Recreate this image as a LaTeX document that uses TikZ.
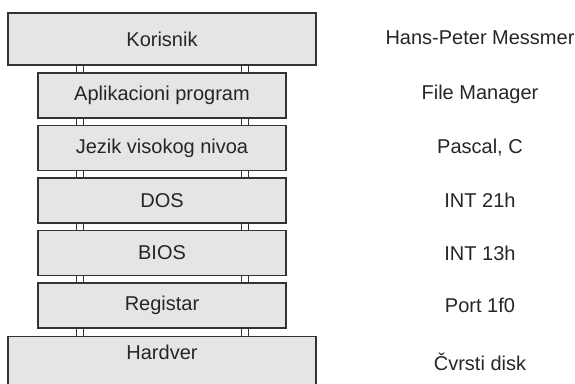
\documentclass[tikz,border=0pt]{standalone}
\usepackage{fontspec}
\setmainfont{Liberation Sans}

\begin{document}
\begin{tikzpicture}[x=1pt,y=-1pt,
	every node/.style={font=\fontsize{20}{23}\selectfont,text=black!85},
	layer/.style={draw=black!80,line width=1.2pt,fill=black!10,minimum width=248pt,minimum height=45pt,inner sep=0pt},
	wide/.style={layer,minimum width=308pt},
	link/.style={draw=black!80,line width=0.9pt},
	sample/.style={inner sep=0pt}]
	\clip (0,0) rectangle (575,383);
	\node[wide,minimum height=52pt] (user) at (162,39) {Korisnik};
	\node[layer] (app) at (162,95.5) {Aplikacioni program};
	\node[layer] (lang) at (162,148) {Jezik visokog nivoa};
	\node[layer] (dos) at (162,200.5) {DOS};
	\node[layer] (bios) at (162,253) {BIOS};
	\node[layer] (reg) at (162,305.5) {Registar};
	\node[wide,anchor=north,minimum height=0pt,inner ysep=9pt,text height=14pt,text depth=60pt] (hw) at (162,336) {Hardver};
	\foreach \a/\b in {user/app,app/lang,lang/dos,dos/bios,bios/reg,reg/hw}
		\foreach \x in {76,83,241,248}
			\draw[link] (\a.south -| \x,0) -- (\b.north -| \x,0);
	\node[sample] (user-ex) at (480,38) {Hans-Peter Messmer};
	\node[sample] (app-ex) at (480,94) {File Manager};
	\node[sample] (lang-ex) at (480,148) {Pascal, C};
	\node[sample] (dos-ex) at (480,200.5) {INT 21h};
	\node[sample] (bios-ex) at (480,253) {INT 13h};
	\node[sample] (reg-ex) at (480,305) {Port 1f0};
	\node[sample] (hw-ex) at (480,362) {Čvrsti disk};
\end{tikzpicture}
\end{document}
